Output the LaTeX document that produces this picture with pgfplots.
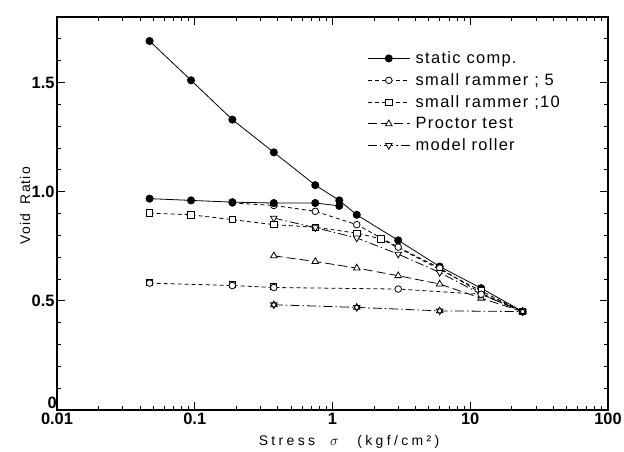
\documentclass[border=0pt]{standalone}
\usepackage{fontspec}
\setmainfont{Liberation Sans}
\newfontfamily\spaced[LetterSpace=8]{Liberation Sans}
\newfontfamily\wide[LetterSpace=24]{Liberation Sans}
\usepackage{pgfplots}
\pgfplotsset{compat=1.18}
\begin{document}
\begin{tikzpicture}
\path[use as bounding box] (-57bp,-42bp) rectangle (567bp,410bp);
\begin{axis}[at={(0,0)}, anchor=south west, scale only axis,
 width=551bp, height=393bp,
 xmode=log, xmin=0.01, xmax=100, ymin=0, ymax=1.8,
 xtick={0.01,0.1,1,10,100}, xticklabels={0.01,0.1,1,10,100},
 ytick={0.5,1,1.5}, yticklabels={0.5,1.0,1.5},
 extra y ticks={0}, extra y tick labels={0},
 extra y tick style={yticklabel style={yshift=7bp, inner sep=1bp}},
 minor ytick={0.1,0.2,0.3,0.4,0.6,0.7,0.8,0.9,1.1,1.2,1.3,1.4,1.6,1.7},
 tick align=inside, major tick length=8bp, minor tick length=4bp,
 axis line style={line width=1.2pt},
 every tick/.style={black, line width=0.8pt},
 /pgf/number format/assume math mode=true,
 every tick label/.append style={font=\fontsize{16.5}{16.5}\selectfont\bfseries},
 xticklabel style={font=\fontsize{16.5}{16.5}\selectfont\bfseries, yshift=0bp},
 yticklabel style={font=\fontsize{16.5}{16.5}\selectfont\bfseries, xshift=1bp},
 xlabel={\wide Stress \;\;$\sigma$\;\;\; (kgf/cm²)},
 ylabel={\spaced Void\,\, Ratio},
 xlabel style={at={(axis description cs:0.53,-0.08)}, anchor=center, font=\fontsize{14}{16}\selectfont},
 ylabel style={at={(axis description cs:-0.058,0.52)}, anchor=center, font=\fontsize{14}{16}\selectfont},
 legend style={at={(axis description cs:0.563,0.916)}, anchor=north west, draw=none, fill=none,
   font=\fontsize{16.5}{18}\selectfont\spaced, row sep=5.5bp, column sep=4bp, inner sep=0pt,
   nodes={inner sep=1.5bp}},
 legend cell align=left,
 legend image code/.code={\draw[mark repeat=2,mark phase=2] plot coordinates {(0bp,0bp) (21bp,0bp) (42bp,0bp)};},
 every axis plot/.append style={line width=0.8pt, black},
]
% static comp.
\addplot[solid, mark=*, mark size=3.6bp] coordinates {
 (0.047,1.69) (0.094,1.51) (0.1875,1.33) (0.375,1.18) (0.75,1.03) (1.12,0.96)
 (1.5,0.894) (3,0.777) (6,0.657) (12,0.558) (24,0.451)};
\addlegendentry{static comp.}
% small rammer 5
\addplot[dash pattern=on 4bp off 3bp, mark=*, mark size=3.3bp, mark options={solid, fill=white}] coordinates {
 (0.1875,0.948) (0.375,0.937) (0.75,0.91) (1.5,0.849) (3,0.746) (6,0.65) (12,0.535) (24,0.451)};
\addlegendentry{small rammer ; 5}
% small rammer 10
\addplot[dash pattern=on 4bp off 3bp, mark=square*, mark size=3.2bp, mark options={solid, fill=white}] coordinates {
 (0.047,0.902) (0.094,0.894) (0.1875,0.872) (0.375,0.849) (0.75,0.837) (1.5,0.81) (2.25,0.784) (12,0.545) (24,0.451)};
\addlegendentry{small rammer ;10}
% Proctor
\addplot[dash pattern=on 9bp off 4bp, mark=triangle*, mark size=3.8bp, mark options={solid, fill=white}] coordinates {
 (0.375,0.706) (0.75,0.68) (1.5,0.65) (3,0.615) (6,0.577) (12,0.512) (24,0.451)};
\addlegendentry{Proctor test}
% model roller
\addplot[dash pattern=on 9bp off 3bp on 1.5bp off 3bp, mark=triangle*, mark size=3.8bp, mark options={solid, fill=white, rotate=180}] coordinates {
 (0.375,0.879) (0.75,0.835) (1.5,0.788) (3,0.714) (6,0.63) (12,0.53) (24,0.451)};
\addlegendentry{model roller}
% lower branches
\addplot[forget plot, solid, mark=*, mark size=3.6bp] coordinates {
 (0.047,0.968) (0.094,0.96) (0.1875,0.952) (0.375,0.948) (0.75,0.948) (1.12,0.935)};
\addplot[forget plot, only marks, mark=square*, mark size=3.0bp, mark options={solid, fill=white}] coordinates {
 (0.047,0.585) (0.1875,0.574) (0.375,0.565)};
\addplot[forget plot, dash pattern=on 4bp off 3bp, mark=*, mark size=3.3bp, mark options={solid, fill=white}] coordinates {
 (0.047,0.581) (0.1875,0.57) (0.375,0.561) (3,0.554) (12,0.53) (24,0.451)};
\addplot[forget plot, dash pattern=on 9bp off 3bp on 1.5bp off 3bp, mark=triangle*, mark size=3.8bp, mark options={solid, fill=white, rotate=180}] coordinates {
 (0.375,0.482) (1.5,0.47) (6,0.454) (24,0.451)};
\addplot[forget plot, only marks, mark=triangle, mark size=3.8bp, mark options={solid}] coordinates {
 (0.375,0.482) (1.5,0.47) (6,0.454) (24,0.451)};
\end{axis}
\end{tikzpicture}
\end{document}
